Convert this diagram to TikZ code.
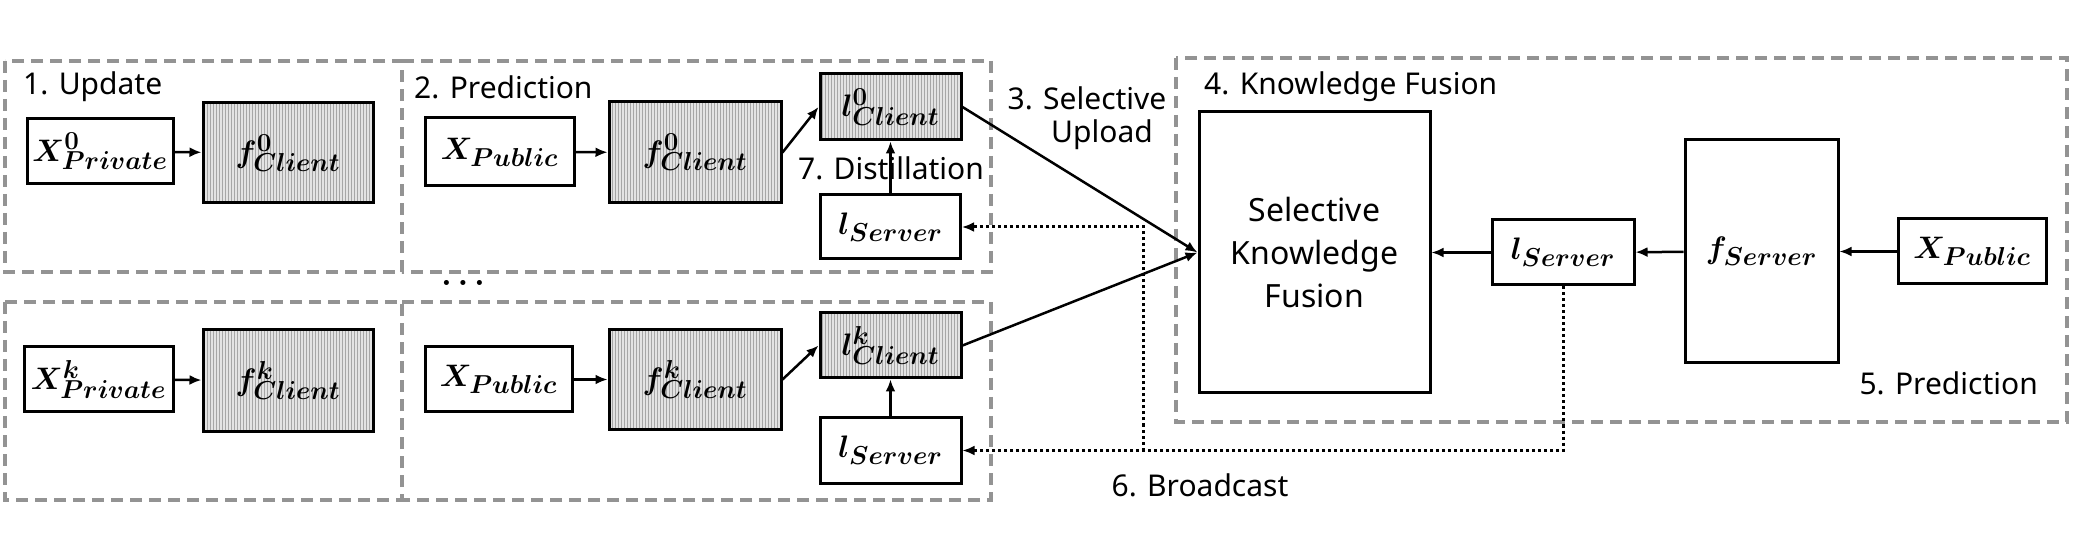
\documentclass[tikz,border=0pt]{standalone}
\usepackage{fontspec}
\setsansfont{Noto Sans}
\usepackage{bm}
\usepackage{graphicx}
\usetikzlibrary{arrows.meta,patterns}
\newcommand{\lbl}{\sffamily\fontsize{30}{36}\selectfont}
\newcommand{\mth}{\fontsize{24.88}{30}\selectfont}
\newcommand{\mt}[1]{\scalebox{1.25}{$\bm{#1}$}}
\begin{document}
\begin{tikzpicture}[x=1pt,y=-1pt,
  grp/.style={draw=gray!85, line width=4pt, dash pattern=on 12pt off 7pt},
  box/.style={draw, line width=3pt, fill=white, inner sep=0pt, font=\mth},
  hbox/.style={box, preaction={fill=gray!22}, pattern=vertical lines, pattern color=gray!70},
  lab/.style={font=\lbl, inner sep=0pt},
  arr/.style={-{Latex[length=12pt,width=10pt]}, line width=2.5pt},
  dotarr/.style={-{Latex[length=12pt,width=10pt]}, line width=3pt, dash pattern=on 3pt off 3pt}
]
\useasboundingbox (0,0) rectangle (2075,534);
\fill[white] (0,0) rectangle (2075,534);

% group boxes
\draw[grp] (5,61) rectangle (402,272);
\draw[grp] (402,61) -- (991,61) -- (991,272) -- (402,272);
\draw[grp] (5,302) rectangle (402,500);
\draw[grp] (402,302) -- (991,302) -- (991,500) -- (402,500);
\draw[grp] (1176,58) rectangle (2067,422);

% client 0
\node[box, minimum width=146pt, minimum height=65pt] (xp0) at (100,151.5) {\mt{X^{0}_{Private}}};
\node[hbox, minimum width=170pt, minimum height=100pt] (fc0a) at (288,153) {\mt{f^{0}_{Client}}};
\node[box, minimum width=149pt, minimum height=68pt] (xpub0) at (499.5,152) {\mt{X_{Public}}};
\node[hbox, minimum width=172pt, minimum height=101pt] (fc0b) at (695,152.5) {\mt{f^{0}_{Client}}};
\node[hbox, minimum width=141pt, minimum height=66pt] (lc0) at (890.5,107) {\mt{l^{0}_{Client}}};
\node[box, minimum width=140pt, minimum height=64pt] (ls0) at (890.5,227) {\mt{l_{Server}}};

% client k
\node[box, minimum width=149pt, minimum height=65pt] (xpk) at (98.5,379.5) {\mt{X^{k}_{Private}}};
\node[hbox, minimum width=170pt, minimum height=101pt] (fcka) at (288,380.5) {\mt{f^{k}_{Client}}};
\node[box, minimum width=147pt, minimum height=65pt] (xpubk) at (498.5,379.5) {\mt{X_{Public}}};
\node[hbox, minimum width=172pt, minimum height=99pt] (fckb) at (695,379.5) {\mt{f^{k}_{Client}}};
\node[hbox, minimum width=141pt, minimum height=65pt] (lck) at (890.5,345.5) {\mt{l^{k}_{Client}}};
\node[box, minimum width=141pt, minimum height=65pt] (lsk) at (890.5,450.5) {\mt{l_{Server}}};

% server
\node[box, minimum width=231pt, minimum height=281pt, font=\sffamily\fontsize{32}{43}\selectfont, align=center] (skf) at (1314.5,252.5) {Selective\\Knowledge\\Fusion};
\node[box, minimum width=142pt, minimum height=65pt] (lsm) at (1563,252.5) {\mt{l_{Server}}};
\node[box, minimum width=153pt, minimum height=223pt] (fs) at (1761.5,251.5) {\mt{f_{Server}}};
\node[box, minimum width=148pt, minimum height=65pt] (xpubr) at (1972,251.5) {\mt{X_{Public}}};

% labels
\node[lab, anchor=west] (t1) at (23,87) {1. Update};
\node[lab, anchor=west] (t2) at (414,87) {2. Prediction};
\node[lab] (t3a) at (1087,98) {3. Selective};
\node[lab] (t3b) at (1102,135) {Upload};
\node[lab, anchor=west] (t4) at (1204,87) {4. Knowledge Fusion};
\node[lab, anchor=east] (t5) at (2038,383) {5. Prediction};
\node[lab] (t6) at (1200,485) {6. Broadcast};
\node[lab] (t7) at (891,168) {7. Distillation};
\node[inner sep=0pt, font=\mth] (dots) at (463,283) {\scalebox{1.3}{$\bm{\ldots}$}};

% arrows
\draw[arr] (xp0) -- (fc0a);
\draw[arr] (xpub0) -- (fc0b);
\draw[arr] (fc0b.east) -- (lc0.west);
\draw[arr] (ls0) -- (lc0);
\draw[arr] (xpk) -- (fcka);
\draw[arr] (xpubk) -- (fckb);
\draw[arr] (fckb.east) -- (lck.west);
\draw[arr] (lsk) -- (lck);
\draw[arr] (lc0.east) -- (skf.west);
\draw[arr] (lck.east) -- (skf.west);
\draw[arr] (lsm) -- (skf);
\draw[arr] (fs) -- (lsm);
\draw[arr] (xpubr) -- (fs);

% broadcast
\coordinate (br) at (1143,450.5);
\draw[dotarr] (lsm.south) |- (lsk.east);
\draw[dotarr] (br) |- (ls0.east);
\end{tikzpicture}
\end{document}
